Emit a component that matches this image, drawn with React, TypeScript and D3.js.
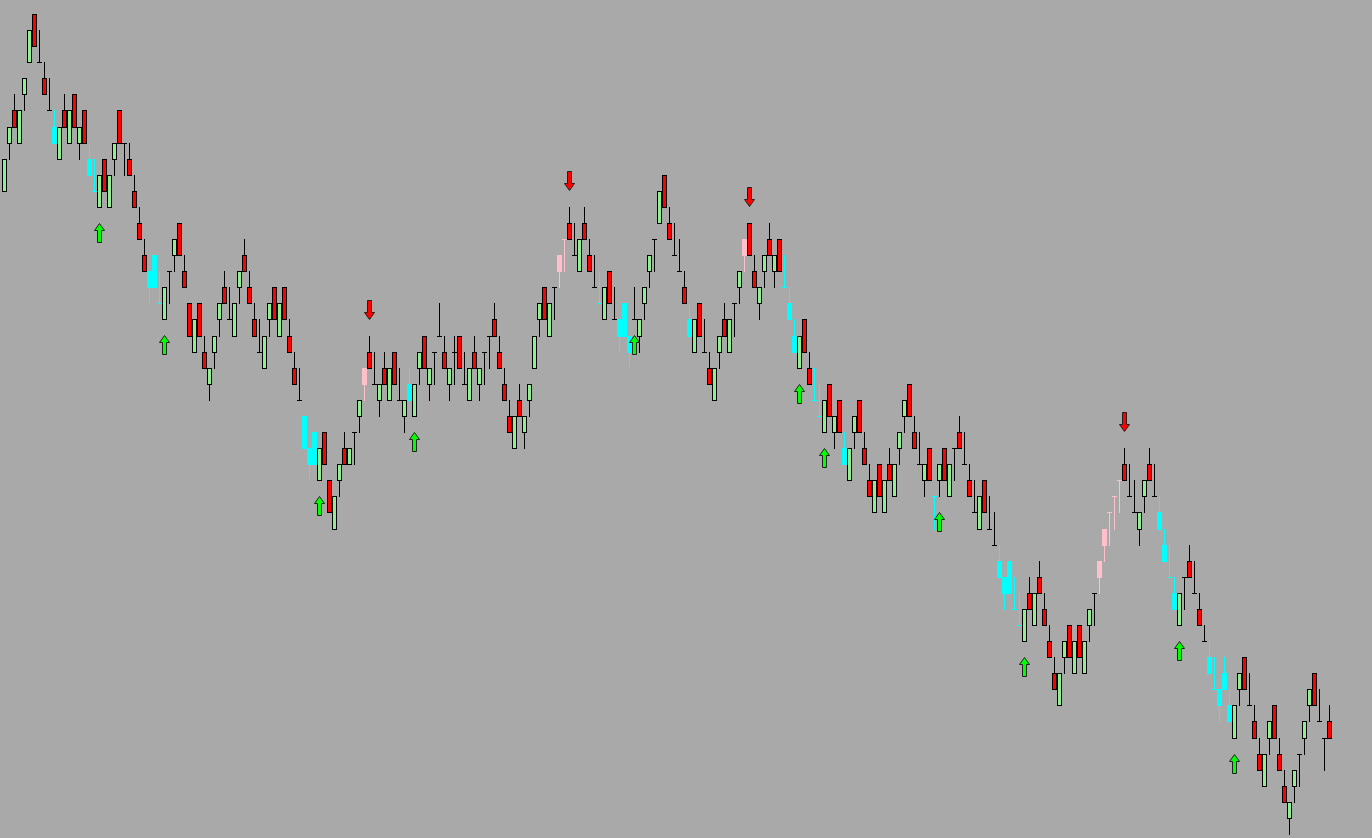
import React, { useEffect, useRef } from 'react'
import * as d3 from 'd3'

const WIDTH = 1372
const HEIGHT = 838

// Prices are read as grid levels: 0 is the highest price on screen, 51 the lowest.
// One level is one price step of the chart.
const opens = [
  11, 8, 6, 8, 5, 3, 0, 3, 4, 6,
  7, 9, 6, 8, 5, 8, 6, 9, 11, 12,
  9, 12, 9, 6, 8, 9, 11, 13, 15, 16,
  15, 18, 19, 16, 15, 13, 16, 18, 21, 18,
  21, 23, 21, 19, 17, 19, 20, 17, 15, 17,
  19, 21, 22, 19, 17, 20, 17, 20, 22, 24,
  25, 27, 26, 29, 26, 29, 32, 29, 27, 28,
  26, 25, 23, 21, 23, 24, 22, 24, 21, 24,
  25, 23, 25, 22, 20, 23, 21, 20, 21, 23,
  21, 20, 23, 24, 21, 23, 21, 20, 19, 21,
  23, 25, 27, 24, 26, 24, 22, 19, 17, 20,
  17, 16, 14, 13, 15, 16, 13, 15, 17, 18,
  19, 16, 19, 19, 18, 20, 19, 20, 18, 16,
  14, 13, 10, 13, 15, 16, 17, 19, 21, 18,
  21, 22, 24, 21, 19, 21, 18, 17, 15, 13,
  16, 18, 16, 14, 16, 14, 17, 18, 20, 22,
  19, 22, 24, 25, 26, 23, 26, 24, 27, 29,
  26, 24, 27, 29, 31, 28, 31, 28, 30, 27,
  25, 23, 26, 28, 29, 27, 30, 29, 27, 30,
  27, 26, 28, 29, 31, 32, 29, 32, 33, 34,
  35, 34, 37, 38, 39, 36, 38, 35, 37, 39,
  41, 43, 40, 38, 41, 38, 41, 38, 36, 35,
  33, 31, 30, 29, 28, 30, 31, 32, 30, 28,
  30, 31, 33, 35, 36, 38, 35, 34, 36, 37,
  39, 40, 42, 42, 41, 43, 45, 42, 40, 43,
  44, 46, 48, 45, 43, 46, 48, 50, 48, 46,
  45, 43, 41, 44, 45, 44
]

const highs = [
  9, 7, 5, 6, 4, 1, 0, 1, 3, 4,
  6, 7, 5, 6, 5, 7, 6, 8, 9, 10,
  9, 10, 8, 6, 8, 8, 10, 12, 14, 16,
  15, 16, 17, 16, 14, 13, 15, 18, 19, 18,
  20, 22, 20, 18, 16, 17, 18, 16, 14, 16,
  18, 19, 20, 18, 17, 18, 17, 19, 21, 22,
  25, 27, 26, 27, 26, 29, 30, 28, 26, 27,
  26, 24, 22, 20, 21, 23, 21, 22, 21, 22,
  24, 22, 23, 21, 20, 22, 21, 18, 20, 22,
  20, 20, 21, 22, 20, 22, 21, 20, 18, 20,
  22, 24, 25, 23, 25, 23, 20, 18, 17, 18,
  17, 15, 14, 12, 13, 14, 12, 14, 15, 16,
  17, 16, 17, 19, 18, 20, 17, 19, 17, 15,
  14, 11, 10, 12, 13, 14, 16, 18, 19, 18,
  19, 21, 22, 20, 18, 19, 18, 16, 14, 13,
  15, 17, 15, 13, 15, 14, 15, 17, 19, 20,
  19, 21, 22, 23, 24, 23, 25, 24, 26, 27,
  25, 24, 26, 28, 29, 28, 29, 27, 28, 26,
  24, 23, 25, 26, 28, 27, 30, 28, 27, 28,
  27, 25, 26, 28, 29, 30, 29, 30, 31, 33,
  35, 34, 35, 36, 37, 35, 36, 34, 36, 38,
  40, 41, 39, 38, 39, 38, 39, 37, 36, 34,
  32, 31, 30, 29, 27, 28, 29, 31, 29, 27,
  28, 30, 32, 33, 35, 36, 35, 33, 34, 36,
  38, 39, 40, 42, 40, 42, 43, 41, 40, 41,
  43, 45, 46, 44, 43, 45, 47, 49, 47, 46,
  44, 42, 41, 42, 45, 43
]

const lows = [
  11, 9, 7, 8, 6, 3, 2, 3, 5, 6,
  8, 9, 7, 8, 7, 9, 8, 10, 11, 12,
  11, 12, 10, 8, 10, 10, 12, 14, 16, 18,
  17, 18, 19, 18, 16, 15, 17, 20, 21, 20,
  22, 24, 22, 20, 18, 19, 20, 18, 16, 18,
  20, 21, 22, 20, 19, 20, 19, 21, 23, 24,
  27, 29, 28, 29, 28, 31, 32, 30, 28, 28,
  28, 26, 24, 22, 23, 25, 23, 24, 23, 24,
  26, 24, 25, 23, 22, 24, 23, 20, 22, 24,
  23, 22, 23, 24, 22, 24, 23, 22, 20, 22,
  24, 26, 27, 25, 27, 25, 22, 20, 19, 20,
  19, 17, 16, 14, 15, 16, 14, 16, 17, 18,
  19, 18, 19, 21, 20, 22, 19, 21, 19, 17,
  16, 13, 12, 14, 15, 16, 18, 20, 21, 20,
  21, 23, 24, 22, 20, 21, 20, 18, 16, 15,
  17, 19, 17, 15, 17, 16, 17, 19, 21, 22,
  21, 23, 24, 25, 26, 25, 27, 26, 28, 29,
  27, 26, 28, 30, 31, 30, 31, 29, 30, 28,
  26, 25, 27, 28, 30, 29, 32, 30, 29, 30,
  29, 27, 28, 30, 31, 32, 31, 32, 33, 35,
  37, 36, 37, 38, 39, 37, 38, 36, 38, 40,
  42, 43, 41, 40, 41, 40, 41, 39, 38, 36,
  34, 33, 32, 31, 29, 30, 31, 33, 31, 29,
  30, 32, 34, 35, 37, 38, 37, 35, 36, 38,
  39, 41, 42, 44, 42, 44, 45, 43, 42, 43,
  45, 47, 48, 46, 45, 47, 49, 51, 49, 48,
  46, 44, 43, 44, 47, 45
]

const closes = [
  9, 7, 7, 6, 4, 1, 2, 3, 5, 6,
  8, 7, 7, 6, 7, 7, 8, 10, 11, 10,
  11, 10, 8, 8, 8, 10, 12, 14, 16, 17,
  17, 18, 17, 16, 14, 15, 17, 20, 19, 20,
  22, 22, 20, 18, 18, 19, 18, 16, 16, 18,
  20, 21, 20, 18, 19, 18, 19, 21, 23, 24,
  27, 28, 28, 27, 28, 31, 30, 28, 28, 27,
  26, 24, 22, 22, 23, 23, 23, 22, 23, 24,
  24, 24, 23, 21, 22, 22, 21, 20, 22, 22,
  21, 22, 23, 22, 22, 22, 21, 20, 20, 22,
  24, 26, 25, 25, 25, 23, 20, 18, 19, 18,
  17, 15, 14, 14, 15, 14, 14, 16, 17, 18,
  17, 18, 19, 20, 20, 21, 19, 19, 17, 15,
  14, 11, 12, 14, 15, 16, 18, 20, 19, 20,
  21, 23, 22, 20, 20, 19, 18, 16, 14, 15,
  17, 17, 15, 15, 15, 16, 17, 19, 21, 20,
  21, 23, 24, 25, 24, 25, 25, 26, 28, 27,
  25, 26, 28, 30, 29, 30, 29, 29, 28, 26,
  24, 25, 27, 28, 28, 29, 30, 28, 29, 28,
  27, 27, 28, 30, 31, 30, 31, 32, 33, 35,
  36, 36, 37, 38, 37, 37, 36, 36, 38, 40,
  42, 41, 39, 40, 39, 40, 39, 37, 36, 34,
  32, 31, 30, 29, 29, 30, 31, 31, 29, 29,
  30, 32, 34, 35, 37, 36, 35, 35, 36, 38,
  39, 41, 42, 43, 42, 44, 43, 41, 42, 43,
  45, 47, 46, 44, 45, 47, 49, 49, 47, 46,
  44, 42, 43, 44, 45, 45
]

// g = bull, r = bear, k = neutral (black), c = cyan, p = pink
const kinds = (
  'ggrgggrkrk' + 'cgrgrgrccg' + 'rggrkrrrrc' + 'ccgkgrrrgr' + 'rgggrkggrr' +
  'rkggrgrrrk' + 'cccgrrggrg' + 'kgprkgrgrk' + 'gcggrgkkrg' + 'krkgrgkkrr' +
  'rrgrggggrg' + 'kpprkgrrkc' + 'grkccckggg' + 'kgrrkkrcgr' + 'krggrgkgpr' +
  'rggrgrcccg' + 'rrccgrgrcg' + 'grrrgrgrgg' + 'grrkgrcgrg' + 'krkrkgrkkc' +
  'ccccgrgrrr' + 'rggrgrggkp' + 'pppprkkggr' + 'kccccgkrkr' + 'kcccccggrk' +
  'rrggrrrggk' + 'ggrkkr'
).split('')

const upSignals = [19, 32, 63, 82, 126, 159, 164, 187, 204, 235, 246]
const downSignals = [73, 113, 149, 224]

const COLORS: Record<string, string> = {
  g: '#90EE90',
  r: '#FF0000',
  k: '#000000',
  c: '#00FFFF',
  p: '#FFC0CB'
}

interface Bar {
  i: number
  o: number
  h: number
  l: number
  c: number
  k: string
}

const CandleChart: React.FC = () => {
  const svgRef = useRef<SVGSVGElement>(null)

  useEffect(() => {
    if (!svgRef.current) return
    const svg = d3.select(svgRef.current)
    svg.selectAll('*').remove()

    svg.append('rect')
      .attr('width', WIDTH)
      .attr('height', HEIGHT)
      .attr('fill', '#A9A9A9')

    const bars: Bar[] = opens.map((o, i) => ({
      i, o, h: highs[i], l: lows[i], c: closes[i], k: kinds[i]
    }))

    // one bar every 5px, wick column of the first bar at x = 4
    const x = d3.scaleLinear().domain([0, bars.length - 1]).range([4, 4 + 5 * (bars.length - 1)])
    const y = d3.scaleLinear().domain([0, 51]).range([14, 834])
    const px = (v: number) => Math.round(x(v))
    const py = (v: number) => Math.round(y(v))

    const g = svg.append('g').attr('shape-rendering', 'crispEdges')

    const colored = (k: string) => k === 'c' || k === 'p'

    const bar = g.selectAll('g.bar')
      .data(bars)
      .join('g')
      .attr('class', 'bar')

    // wicks
    bar.append('rect')
      .attr('x', d => px(d.i))
      .attr('y', d => py(d.h))
      .attr('width', 1)
      .attr('height', d => py(d.l) - py(d.h) + 1)
      .attr('fill', d => colored(d.k) ? COLORS[d.k] : '#000')

    // bodies
    bar.each(function (d) {
      const sel = d3.select(this)
      const top = Math.min(d.o, d.c)
      const bot = Math.max(d.o, d.c)
      if (d.o === d.c) {
        sel.append('rect')
          .attr('x', px(d.i) - 2)
          .attr('y', py(d.o))
          .attr('width', 5)
          .attr('height', 1)
          .attr('fill', colored(d.k) ? COLORS[d.k] : '#000')
      } else if (colored(d.k)) {
        sel.append('rect')
          .attr('x', px(d.i) - 2)
          .attr('y', py(top))
          .attr('width', 5)
          .attr('height', py(bot) - py(top) + 1)
          .attr('fill', COLORS[d.k])
      } else {
        sel.append('rect')
          .attr('x', px(d.i) - 1.5)
          .attr('y', py(top) + 0.5)
          .attr('width', 4)
          .attr('height', py(bot) - py(top))
          .attr('fill', COLORS[d.k])
          .attr('stroke', '#000')
          .attr('stroke-width', 1)
      }
    })

    // signal arrows
    const arrows = svg.append('g')

    arrows.selectAll('path.up')
      .data(upSignals)
      .join('path')
      .attr('class', 'up')
      .attr('d', i => {
        const cx = px(i) + 0.5
        const t = py(lows[i]) + 16.5
        return `M${cx},${t} L${cx + 5},${t + 7} L${cx + 2},${t + 7} L${cx + 2},${t + 19} ` +
          `L${cx - 2},${t + 19} L${cx - 2},${t + 7} L${cx - 5},${t + 7} Z`
      })
      .attr('fill', '#00FF00')
      .attr('stroke', '#202020')
      .attr('stroke-width', 1)

    arrows.selectAll('path.down')
      .data(downSignals)
      .join('path')
      .attr('class', 'down')
      .attr('d', i => {
        const cx = px(i) + 0.5
        const b = py(highs[i]) - 16.5
        return `M${cx},${b} L${cx + 5},${b - 7} L${cx + 2},${b - 7} L${cx + 2},${b - 19} ` +
          `L${cx - 2},${b - 19} L${cx - 2},${b - 7} L${cx - 5},${b - 7} Z`
      })
      .attr('fill', '#FF0000')
      .attr('stroke', '#202020')
      .attr('stroke-width', 1)
  }, [])

  return (
    <svg
      ref={svgRef}
      width={WIDTH}
      height={HEIGHT}
      style={{ position: 'absolute', left: 0, top: 0, display: 'block' }}
    />
  )
}

export default function App() {
  return <CandleChart />
}
